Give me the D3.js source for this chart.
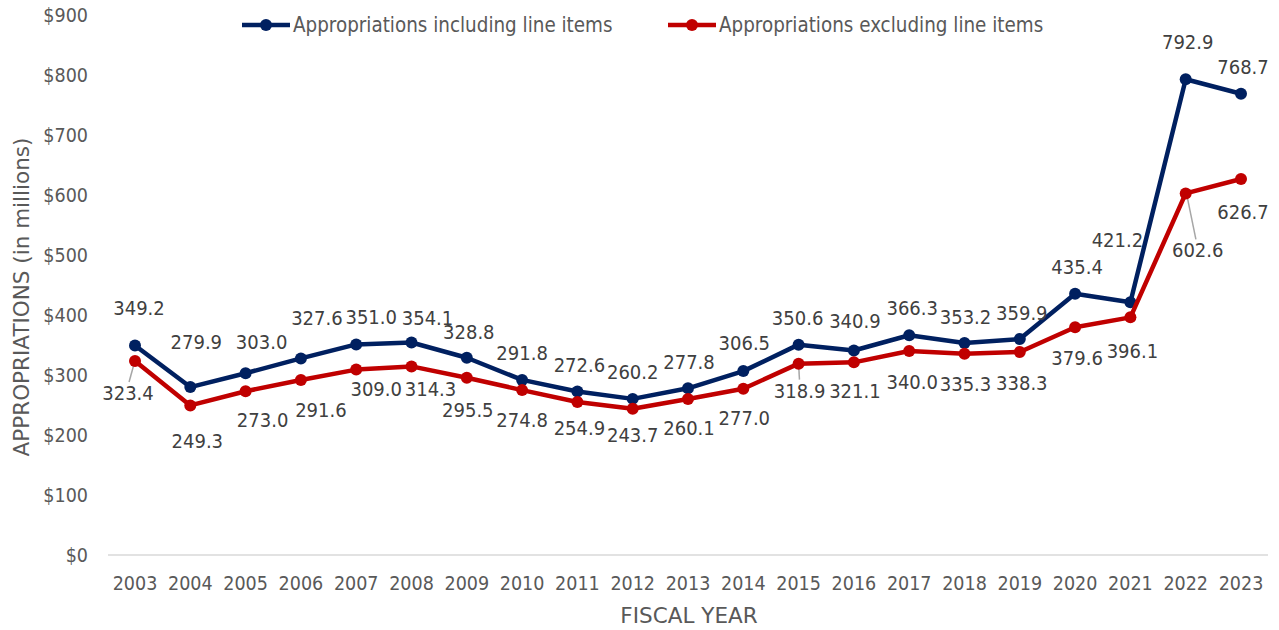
<!DOCTYPE html>
<html lang="en">
<head>
  <meta charset="utf-8" />
  <title>Appropriations</title>
  <style>
    body { margin: 0; background: #fff; }
    svg { font-family: "DejaVu Sans Condensed", "DejaVu Sans", sans-serif; font-stretch: condensed; }
    .tick-label { fill: #595959; font-size: 19.5px; }
    .axis-title { fill: #595959; font-size: 21.5px; font-family: "DejaVu Sans", sans-serif; font-stretch: normal; }
    .data-label { fill: #404040; font-size: 20px; }
    .legend-text { fill: #595959; font-size: 20.4px; }
    .leader { stroke: #a6a6a6; stroke-width: 1.5px; }
  </style>
</head>
<body>
  <script src="https://cdn.jsdelivr.net/npm/d3@7"></script>
  <script>
    var years = [2003, 2004, 2005, 2006, 2007, 2008, 2009, 2010, 2011, 2012, 2013,
      2014, 2015, 2016, 2017, 2018, 2019, 2020, 2021, 2022, 2023];
    var inclLineItems = [349.2, 279.9, 303.0, 327.6, 351.0, 354.1, 328.8, 291.8, 272.6, 260.2, 277.8,
      306.5, 350.6, 340.9, 366.3, 353.2, 359.9, 435.4, 421.2, 792.9, 768.7];
    var exclLineItems = [323.4, 249.3, 273.0, 291.6, 309.0, 314.3, 295.5, 274.8, 254.9, 243.7, 260.1,
      277.0, 318.9, 321.1, 340.0, 335.3, 338.3, 379.6, 396.1, 602.6, 626.7];
    var yTicks = [0, 100, 200, 300, 400, 500, 600, 700, 800, 900];
    var seriesNames = ["Appropriations including line items", "Appropriations excluding line items"];

    // label offsets (dx, dy) from each point, as placed in the original
    var inclLabelOff = [[4, -37], [6, -45], [16, -31], [16, -40], [15, -27], [16, -25], [2, -26],
      [0, -27], [2, -26], [0, -27], [1, -26], [1, -28], [-1, -27], [1, -29], [3, -27], [1, -26],
      [2, -26], [2, -27], [-13, -62], [2, -37], [2, -27]];
    var exclLabelOff = [[-7, 32], [7, 36], [17, 29], [20, 30], [20, 19], [19, 23], [1, 32],
      [0, 30], [2, 26], [0, 26], [1, 29], [1, 29], [1, 27], [1, 29], [3, 31], [1, 30],
      [2, 31], [2, 31], [2, 34], [12, 57], [2, 33]];
    var exclLeaders = [0, 12, 19];

    var w = 1279, h = 630;
    var colors = ["#002060", "#c00000"];

    var svg = d3.select("body").append("svg")
      .attr("width", w)
      .attr("height", h);

    var xScale = d3.scalePoint()
      .domain(years)
      .range([135, 1241]);

    var yScale = d3.scaleLinear()
      .domain([0, 900])
      .range([555, 15]);

    // baseline
    svg.append("line")
      .attr("x1", 108).attr("x2", 1268)
      .attr("y1", yScale(0)).attr("y2", yScale(0))
      .attr("stroke", "#d9d9d9")
      .attr("stroke-width", 1.5);

    // y tick labels
    svg.selectAll(".ytick")
      .data(yTicks)
      .enter()
      .append("text")
      .attr("class", "tick-label")
      .attr("x", 88)
      .attr("y", function(d) { return yScale(d); })
      .attr("text-anchor", "end")
      .attr("dominant-baseline", "central")
      .text(function(d) { return "$" + d; });

    // x tick labels
    svg.selectAll(".xtick")
      .data(years)
      .enter()
      .append("text")
      .attr("class", "tick-label")
      .attr("x", function(d) { return xScale(d); })
      .attr("y", 583)
      .attr("text-anchor", "middle")
      .attr("dominant-baseline", "central")
      .text(function(d) { return d; });

    svg.append("text")
      .attr("class", "axis-title")
      .attr("transform", "translate(21,297) rotate(-90)")
      .attr("text-anchor", "middle")
      .attr("dominant-baseline", "central")
      .text("APPROPRIATIONS (in millions)");

    svg.append("text")
      .attr("class", "axis-title")
      .attr("x", 689)
      .attr("y", 615)
      .attr("text-anchor", "middle")
      .attr("dominant-baseline", "central")
      .text("FISCAL YEAR");

    var line = d3.line()
      .x(function(d) { return xScale(d.year); })
      .y(function(d) { return yScale(d.value); });

    var series = [inclLineItems, exclLineItems].map(function(vals) {
      return vals.map(function(v, i) { return { year: years[i], value: v }; });
    });

    // leader lines for the moved red labels
    exclLeaders.forEach(function(i) {
      var px = xScale(years[i]), py = yScale(exclLineItems[i]);
      var lx = px + exclLabelOff[i][0], ly = py + exclLabelOff[i][1] - 11;
      svg.append("line")
        .attr("class", "leader")
        .attr("x1", px + (lx - px) * 0.1).attr("y1", py + 2)
        .attr("x2", lx + (px - lx) * 0.15).attr("y2", ly);
    });

    series.forEach(function(s, k) {
      svg.append("path")
        .datum(s)
        .attr("fill", "none")
        .attr("stroke", colors[k])
        .attr("stroke-width", 4.5)
        .attr("stroke-linejoin", "round")
        .attr("d", line);

      svg.selectAll(".pt" + k)
        .data(s)
        .enter()
        .append("circle")
        .attr("cx", function(d) { return xScale(d.year); })
        .attr("cy", function(d) { return yScale(d.value); })
        .attr("r", 6)
        .attr("fill", colors[k]);
    });

    [inclLabelOff, exclLabelOff].forEach(function(off, k) {
      svg.selectAll(".lbl" + k)
        .data(series[k])
        .enter()
        .append("text")
        .attr("class", "data-label")
        .attr("x", function(d, i) { return xScale(d.year) + off[i][0]; })
        .attr("y", function(d, i) { return yScale(d.value) + off[i][1]; })
        .attr("text-anchor", "middle")
        .attr("dominant-baseline", "central")
        .text(function(d) { return d.value.toFixed(1); });
    });

    // legend
    var legendX = [242, 668];
    seriesNames.forEach(function(name, k) {
      var g = svg.append("g").attr("transform", "translate(" + legendX[k] + ",25)");
      g.append("line")
        .attr("x1", 0).attr("x2", 48)
        .attr("stroke", colors[k])
        .attr("stroke-width", 4.5);
      g.append("circle")
        .attr("cx", 24)
        .attr("r", 6)
        .attr("fill", colors[k]);
      g.append("text")
        .attr("class", "legend-text")
        .attr("x", 51)
        .attr("dominant-baseline", "central")
        .text(name);
    });
  </script>
</body>
</html>
